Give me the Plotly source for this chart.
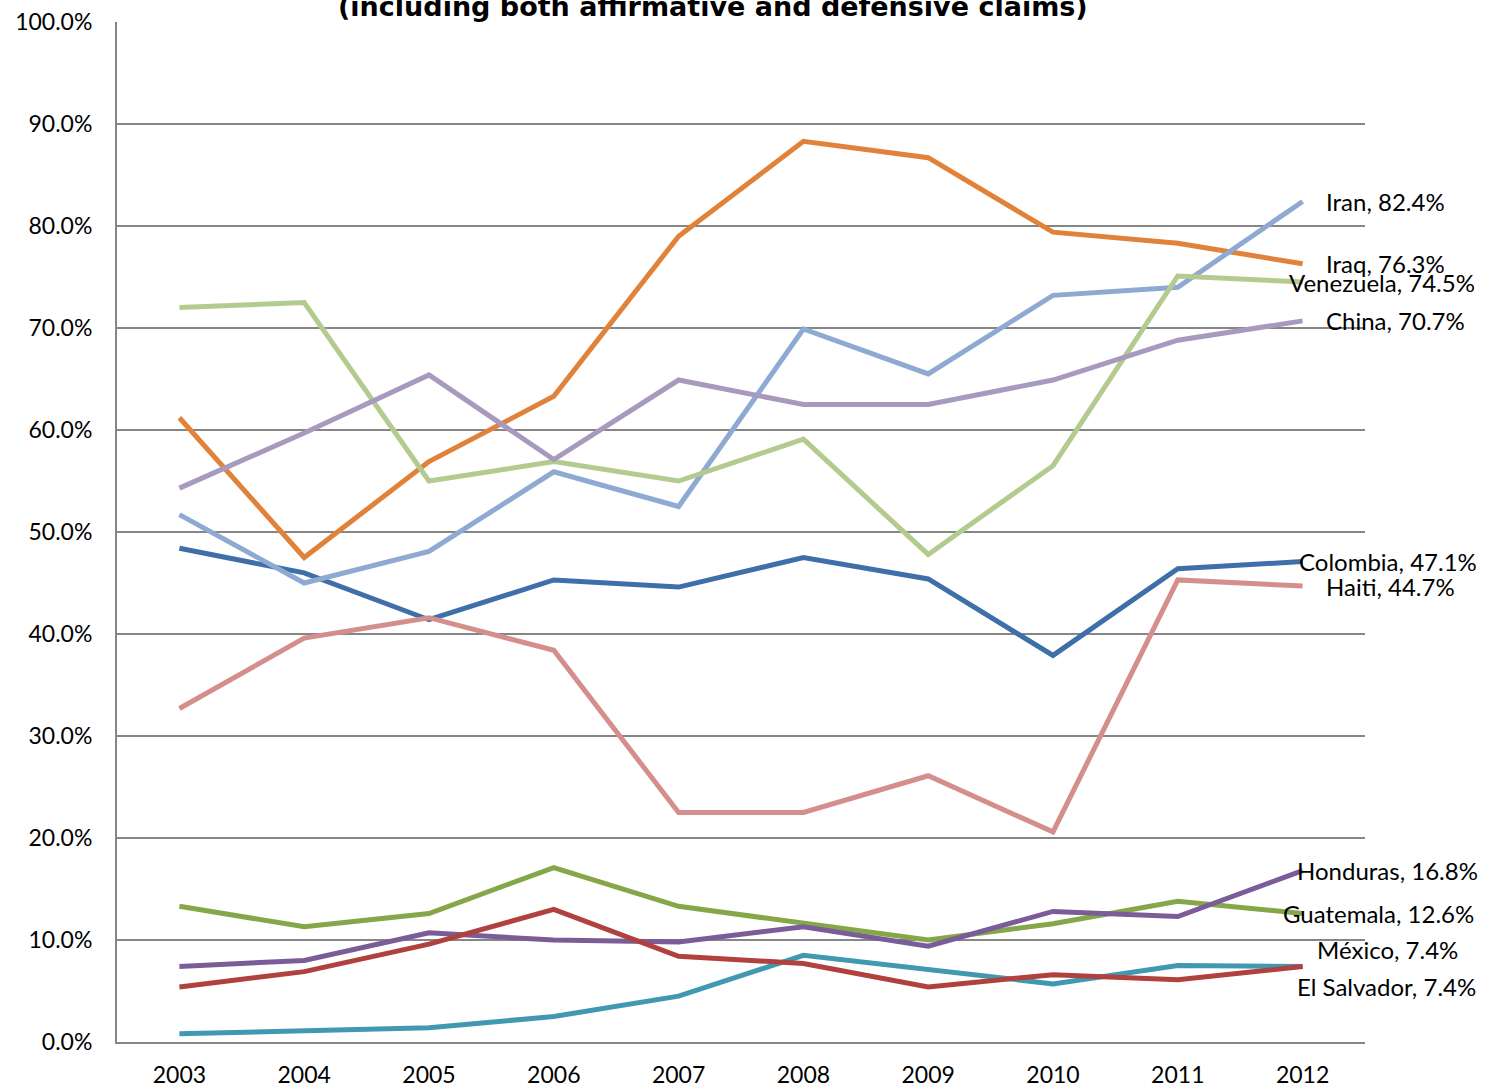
import plotly.graph_objects as go

years = [2003, 2004, 2005, 2006, 2007, 2008, 2009, 2010, 2011, 2012]
year_labels = [str(y) for y in years]

iran = [51.7, 45.0, 48.1, 55.9, 52.5, 69.9, 65.5, 73.2, 74.0, 82.4]
iraq = [61.2, 47.5, 56.9, 63.3, 79.0, 88.3, 86.7, 79.4, 78.3, 76.3]
venezuela = [72.0, 72.5, 55.0, 56.9, 55.0, 59.1, 47.8, 56.5, 75.1, 74.5]
china = [54.3, 59.7, 65.4, 57.1, 64.9, 62.5, 62.5, 64.9, 68.8, 70.7]
colombia = [48.4, 46.0, 41.4, 45.3, 44.6, 47.5, 45.4, 37.9, 46.4, 47.1]
haiti = [32.7, 39.6, 41.6, 38.4, 22.5, 22.5, 26.1, 20.6, 45.3, 44.7]
guatemala = [13.3, 11.3, 12.6, 17.1, 13.3, 11.6, 10.0, 11.6, 13.8, 12.6]
honduras = [7.4, 8.0, 10.7, 10.0, 9.8, 11.3, 9.4, 12.8, 12.3, 16.8]
mexico = [5.4, 6.9, 9.6, 13.0, 8.4, 7.7, 5.4, 6.6, 6.1, 7.4]
el_salvador = [0.8, 1.1, 1.4, 2.5, 4.5, 8.5, 7.1, 5.7, 7.5, 7.4]

y_ticks = [0, 10, 20, 30, 40, 50, 60, 70, 80, 90, 100]

series = [
    ("Colombia", colombia, "#3F6FA8", -6, 0),
    ("Iraq", iraq, "#E0823A", 21, 0),
    ("Haiti", haiti, "#D48E8C", 21, 0),
    ("Guatemala", guatemala, "#86A64A", -22, 0),
    ("Honduras", honduras, "#7A5C98", -8, 0),
    ("El Salvador", el_salvador, "#4099B1", -8, -20),
    ("México", mexico, "#B0413E", 12, 17),
    ("Iran", iran, "#8EA9D2", 21, 0),
    ("Venezuela", venezuela, "#B3CB8F", -16, 0),
    ("China", china, "#A899BE", 21, 0),
]

fig = go.Figure()
annotations = []
for name, vals, color, xs, ys in series:
    fig.add_trace(go.Scatter(x=years, y=vals, mode="lines", name=name,
                             line=dict(color=color, width=5)))
    annotations.append(dict(x=years[-1], y=vals[-1], xref="x", yref="y",
                            text=f"{name}, {vals[-1]:.1f}%", showarrow=False,
                            xanchor="left", yanchor="middle", xshift=xs, yshift=ys,
                            font=dict(family="Lato, Open Sans, sans-serif", size=24, color="#000")))

annotations.append(dict(x=0.5, y=1.0, xref="paper", yref="paper", yshift=-2, xshift=-28,
                        text="<b>(including both affirmative and defensive claims)</b>",
                        showarrow=False, xanchor="center", yanchor="bottom",
                        font=dict(family="DejaVu Sans, sans-serif", size=27, color="#000")))

fig.update_layout(
    width=1486, height=1089,
    margin=dict(l=117, r=121, t=22, b=47, autoexpand=False),
    paper_bgcolor="white", plot_bgcolor="white",
    showlegend=False,
    annotations=annotations,
    font=dict(family="Lato, Open Sans, sans-serif", size=23, color="#000"),
)
fig.update_xaxes(range=[2002.5, 2012.5], tickvals=years, ticktext=year_labels,
                 showgrid=False, showline=True, linecolor="#868686", linewidth=2,
                 ticks="", ticklabelstandoff=11, zeroline=False, fixedrange=True,
                 automargin=False)
fig.update_yaxes(range=[0, 100], tickvals=y_ticks,
                 ticktext=[f"{v:.1f}%" for v in y_ticks],
                 showgrid=True, gridcolor="#868686", gridwidth=2,
                 showline=True, linecolor="#868686", linewidth=2,
                 ticks="", ticklabelstandoff=18, zeroline=False, fixedrange=True,
                 automargin=False)

fig.write_html("out.html", config={"displayModeBar": False},
               post_script="document.body.style.margin='0px';document.body.style.overflow='hidden';")
